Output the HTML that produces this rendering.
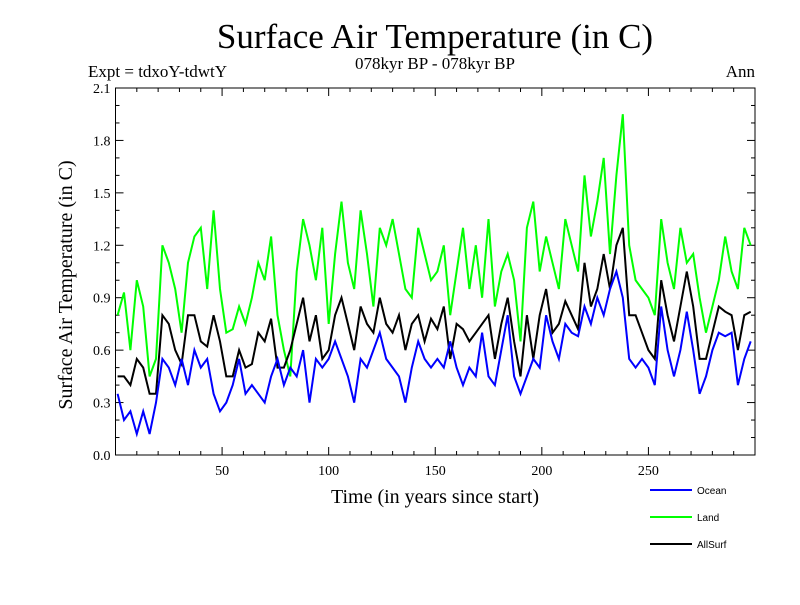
<!DOCTYPE html>
<html><head><meta charset="utf-8"><style>
body{margin:0;background:#fff;}
svg text{font-family:"Liberation Serif",serif;}
</style></head><body>
<svg id="c" width="800" height="600" xmlns="http://www.w3.org/2000/svg">
<text x="435" y="48" font-size="35" text-anchor="middle">Surface Air Temperature (in C)</text>
<text x="435" y="69" font-size="17" text-anchor="middle">078kyr BP - 078kyr BP</text>
<text x="88" y="77" font-size="17">Expt = tdxoY-tdwtY</text>
<text x="755" y="77" font-size="17" text-anchor="end">Ann</text>
<text transform="translate(72,285) rotate(-90)" font-size="20" text-anchor="middle">Surface Air Temperature (in C)</text>
<text x="435" y="503" font-size="20" text-anchor="middle">Time (in years since start)</text>
<g id="axes"></g>
<g id="series"></g>
<g id="legend"></g>
</svg>
<script>
const years=[];for(let k=0;k<100;k++)years.push(1+3*k);
const ocean=[.35,.2,.25,.12,.25,.12,.3,.55,.5,.4,.55,.4,.6,.5,.55,.35,.25,.3,.4,.55,.35,.4,.35,.3,.45,.55,.4,.5,.45,.6,.3,.55,.5,.55,
.65,.55,.45,.3,.55,.5,.6,.7,.55,.5,.45,.3,.5,.65,.55,.5,.55,
.5,.65,.5,.4,.5,.45,.7,.45,.4,.6,.8,.45,.35,.45,.55,.5,.8,.65,.55,.75,.7,.68,.85,.75,.9,
.8,.95,1.05,.9,.55,.5,.55,.5,.4,.85,.6,.45,.6,.82,.6,.35,.45,.6,.7,.68,.7,.4,.55,.65];
const land=[.8,.93,.6,1.0,.85,.45,.55,1.2,1.1,.95,.7,1.1,1.25,1.3,.95,1.4,.95,.7,.72,.85,.75,.9,1.1,1.0,1.25,.8,
.6,.45,1.05,1.35,1.2,1.0,1.3,.75,1.15,1.45,1.1,.95,1.4,1.15,.85,1.3,1.2,1.35,1.15,.95,.9,1.3,1.15,1.0,1.05,
1.2,.8,1.05,1.3,.95,1.2,.9,1.35,.85,1.05,1.15,1.0,.65,1.3,1.45,1.05,1.25,1.1,.95,1.35,1.2,1.05,1.6,1.25,1.45,
1.7,1.15,1.6,1.95,1.2,1.0,.95,.9,.8,1.35,1.1,.95,1.3,1.1,1.15,.9,.7,.85,1.0,1.25,1.05,.95,1.3,1.2];
const allsurf=[.45,.45,.4,.55,.5,.35,.35,.8,.75,.6,.52,.8,.8,.65,.62,.8,.65,.45,.45,.6,.5,.52,.7,.65,.78,.5,
.5,.6,.75,.9,.65,.8,.55,.6,.8,.9,.75,.6,.85,.75,.7,.9,.75,.7,.8,.6,.75,.8,.65,.78,.72,
.85,.55,.75,.72,.65,.7,.75,.8,.55,.75,.9,.65,.45,.8,.55,.8,.95,.7,.75,.88,.8,.72,1.1,.85,.95,
1.15,.95,1.2,1.3,.8,.8,.7,.6,.55,1.0,.8,.65,.85,1.05,.85,.55,.55,.7,.85,.82,.8,.6,.8,.82];
const yTicks=[0.0,0.3,0.6,0.9,1.2,1.5,1.8,2.1];
const xTicks=[50,100,150,200,250];
const seriesNames=["Ocean","Land","AllSurf"];
const seriesColors=["#0000ff","#00ff00","#000000"];

const L=115.5,R=755,T=88,B=455,X0=0,X1=300,Y0=0,Y1=2.1;
const xs=v=>L+(v-X0)/(X1-X0)*(R-L);
const ys=v=>B-(v-Y0)/(Y1-Y0)*(B-T);
const NS="http://www.w3.org/2000/svg";
function mk(tag,attrs,parent){const e=document.createElementNS(NS,tag);for(const k in attrs)e.setAttribute(k,attrs[k]);parent.appendChild(e);return e;}
const ax=document.getElementById('axes');
const frame=mk('rect',{x:L,y:T,width:R-L,height:B-T,fill:'none',stroke:'#000','stroke-width':1},ax);


for(let v=0;v<=2.1001;v+=0.1){const y=ys(v);const major=Math.abs(v/0.3-Math.round(v/0.3))<1e-6;const len=major?8:4;
mk('line',{x1:L,y1:y,x2:L+len,y2:y,stroke:'#000'},ax);mk('line',{x1:R,y1:y,x2:R-len,y2:y,stroke:'#000'},ax);}
yTicks.forEach(v=>{const t=mk('text',{x:L-5,y:ys(v)+5,'font-size':14,'text-anchor':'end'},ax);t.textContent=v.toFixed(1);

});
for(let v=10;v<300;v+=10){const x=xs(v);const major=v%50===0;const len=major?8:4;
mk('line',{x1:x,y1:B,x2:x,y2:B-len,stroke:'#000'},ax);mk('line',{x1:x,y1:T,x2:x,y2:T+len,stroke:'#000'},ax);}
xTicks.forEach(v=>{const t=mk('text',{x:xs(v),y:B+20,'font-size':14,'text-anchor':'middle'},ax);t.textContent=v;

});
const sg=document.getElementById('series');
[ocean,land,allsurf].map((arr,i)=>({arr,i})).sort((a,b)=>[1,2,0].indexOf(a.i)-[1,2,0].indexOf(b.i)).forEach(({arr,i})=>{
const d=arr.map((v,k)=>(k?'L':'M')+xs(years[k]).toFixed(1)+','+ys(v).toFixed(1)).join('');
const p=mk('path',{d:d,fill:'none',stroke:seriesColors[i],'stroke-width':2},sg);

});
const lg=document.getElementById('legend');
seriesNames.forEach((n,i)=>{const y=490+i*27;
const ln=mk('line',{x1:650,y1:y,x2:692,y2:y,stroke:seriesColors[i],'stroke-width':2},lg);


const t=mk('text',{x:697,y:y+4,'font-size':10,style:'font-family:"Liberation Sans",sans-serif'},lg);t.textContent=n;

});
</script>
</body></html>
